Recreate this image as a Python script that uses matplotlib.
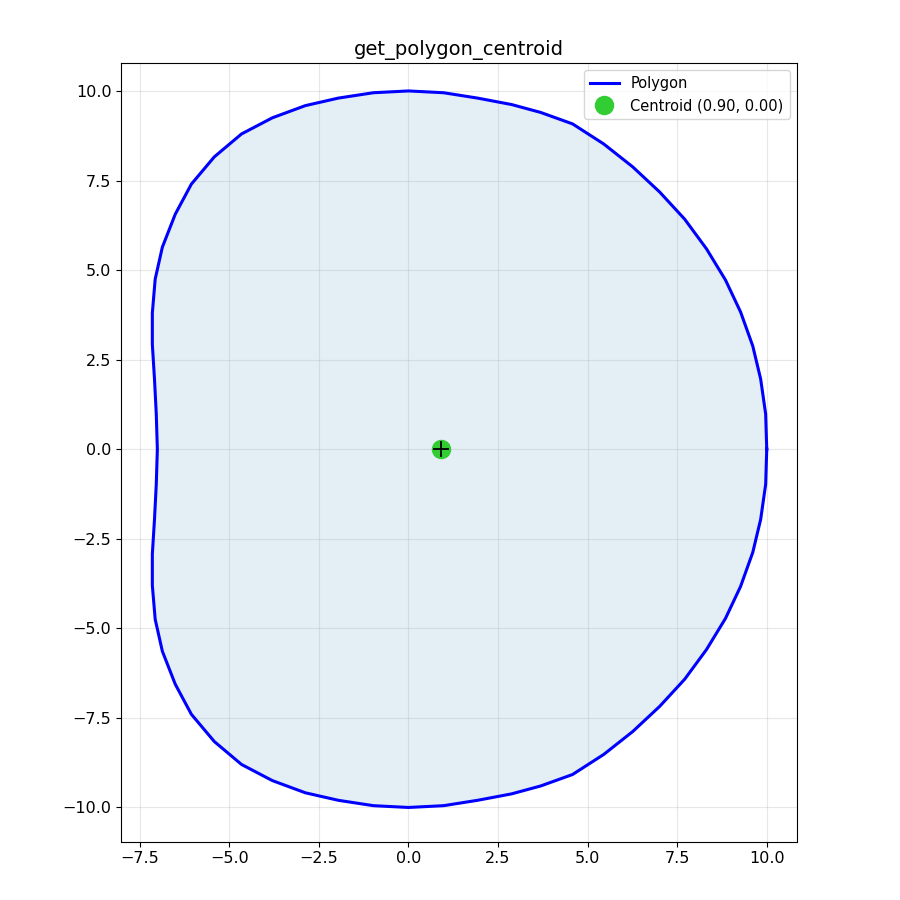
import matplotlib
matplotlib.use("Agg")
import matplotlib.pyplot as plt
import numpy as np

# upper half of the outline (right -> top -> left)
upper_x = [10.0, 9.97, 9.83, 9.61, 9.27, 8.85, 8.32, 7.71, 7.01, 6.26, 5.45, 4.58, 3.69, 2.88,
           1.93, 0.98, 0.0, -0.98, -1.96, -2.88, -3.80, -4.66, -5.42, -6.06, -6.51, -6.87,
           -7.07, -7.15, -7.15, -7.09, -7.04, -7.01]
upper_y = [0.0, 0.98, 1.96, 2.88, 3.83, 4.72, 5.59, 6.42, 7.18, 7.88, 8.52, 9.08, 9.40, 9.62,
           9.80, 9.95, 10.0, 9.95, 9.80, 9.59, 9.25, 8.80, 8.16, 7.40, 6.56, 5.64,
           4.75, 3.80, 2.93, 1.96, 0.98, 0.0]
centroid = (0.90, 0.00)

# shape is symmetric about y=0: mirror the upper half
poly_x = np.array(upper_x + upper_x[-2::-1])
poly_y = np.array(upper_y + [-v for v in upper_y[-2::-1]])

fig, ax = plt.subplots(figsize=(9, 9), dpi=100)
ax.fill(poly_x, poly_y, color='#1f77b4', alpha=0.12, zorder=1)
ax.plot(poly_x, poly_y, color='blue', linewidth=2.2, label='Polygon', zorder=2)
ax.plot(centroid[0], centroid[1], 'o', color='limegreen', markersize=13,
        linestyle='none', label=f'Centroid ({centroid[0]:.2f}, {centroid[1]:.2f})', zorder=3)
ax.plot(centroid[0], centroid[1], '+', color='black', markersize=11, markeredgewidth=1.3, zorder=4)

ax.set_xlim(-8.02, 10.84)
ax.set_ylim(-10.95, 10.78)
ax.set_aspect('equal')
ax.grid(True, alpha=0.3)
ax.set_title('get_polygon_centroid', fontsize=14)
ax.tick_params(labelsize=11.5)
ax.legend(loc='upper right', fontsize=10.5)
fig.subplots_adjust(left=0.12, right=0.9, top=0.93, bottom=0.065)
fig.savefig('out.png')
